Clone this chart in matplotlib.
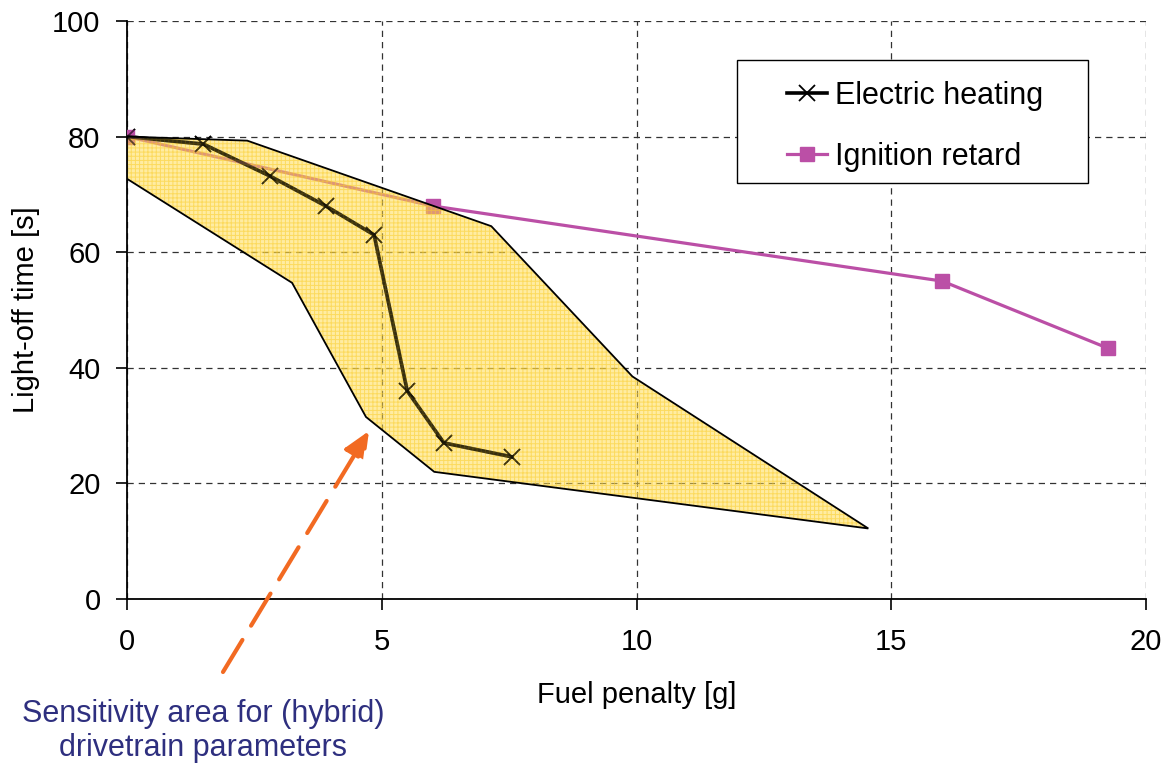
import matplotlib
matplotlib.use("Agg")
import matplotlib.pyplot as plt
from matplotlib.patches import Polygon, Rectangle

plt.rcParams['font.family'] = ['Liberation Sans', 'DejaVu Sans']
plt.rcParams['hatch.linewidth'] = 0.7

# Data
eh_x = [0, 1.5, 2.8, 3.9, 4.85, 5.5, 6.22, 7.55]
eh_y = [80, 78.7, 73.2, 68.0, 63.0, 36.0, 27.0, 24.6]
ir_x = [0, 6.0, 16.0, 19.25]
ir_y = [80, 68.0, 55.0, 43.4]
area_x = [0, 2.36, 7.15, 9.92, 14.55, 6.03, 4.69, 3.24, 0]
area_y = [80, 79.3, 64.5, 38.5, 12.2, 22.0, 31.5, 54.7, 72.7]
xticks = [0, 5, 10, 15, 20]
yticks = [0, 20, 40, 60, 80, 100]

fig = plt.figure(figsize=(11.66, 7.69), dpi=100)
ax = fig.add_axes([127/1166, 1 - 599/769, (1146-127)/1166, (599-21)/769])

ax.set_xlim(0, 20)
ax.set_ylim(0, 100)
ax.set_xticks(xticks)
ax.set_yticks(yticks)
ax.grid(True, linestyle=(0, (5, 4)), color='#333333', linewidth=0.9)
ax.set_axisbelow(True)
for s in ['top', 'right']:
    ax.spines[s].set_visible(False)
for s in ['left', 'bottom']:
    ax.spines[s].set_linewidth(1.3)
ax.tick_params(axis='both', direction='out', length=8, width=1.2, labelsize=21, pad=11)
ax.tick_params(axis='x', pad=13)

ax.plot(eh_x, eh_y, color='black', linewidth=2.6, marker='x', markersize=11,
        markeredgewidth=1.3, label='Electric heating', zorder=3)
ax.plot(ir_x, ir_y, color='#BB4FA6', linewidth=2.3, marker='s', markersize=10,
        label='Ignition retard', zorder=3)

pts = list(zip(area_x, area_y))
ax.add_patch(Polygon(pts, closed=True, facecolor=(1.0, 0.86, 0.3, 0.52),
                     edgecolor=(0.98, 0.80, 0.15, 0.55), linewidth=0,
                     hatch='++++', zorder=4))
ax.add_patch(Polygon(pts, closed=True, fill=False,
                     edgecolor='black', linewidth=1.3, zorder=5))
# darken the electric heating trace seen through the shaded area
ax.plot(eh_x, eh_y, color='black', alpha=0.6, linewidth=2.6, marker='x',
        markersize=11, markeredgewidth=1.3, zorder=6)

ax.set_xlabel('Fuel penalty [g]', fontsize=21, labelpad=18)
ax.set_ylabel('Light-off time [s]', fontsize=21, labelpad=9)

# legend frame
ax.add_patch(Rectangle((0.5986, 0.7197), 0.3445, 0.2128, transform=ax.transAxes,
                       facecolor='white', edgecolor='black', linewidth=1.0, zorder=7))
leg = ax.legend(loc='upper left', bbox_to_anchor=(0.648, 0.896), fontsize=22,
                frameon=False, handlelength=1.3, handletextpad=0.25,
                labelspacing=1.0, borderpad=0, borderaxespad=0)
leg.set_zorder(8)

ax.annotate('', xy=(369/1166, 1 - 431/769), xycoords='figure fraction',
            xytext=(223/1166, 1 - 672/769), textcoords='figure fraction',
            arrowprops=dict(arrowstyle='-|>,head_length=1.6,head_width=0.7',
                            color='#F26A22', linewidth=3, linestyle=(0, (9, 4)),
                            shrinkA=0, shrinkB=0), annotation_clip=False)

fig.text(203/1166, 1 - 731/769, 'Sensitivity area for (hybrid)\ndrivetrain parameters',
         ha='center', va='center', fontsize=22, color='#2E2F7F', linespacing=1.2)

fig.savefig('out.png', dpi=100)
